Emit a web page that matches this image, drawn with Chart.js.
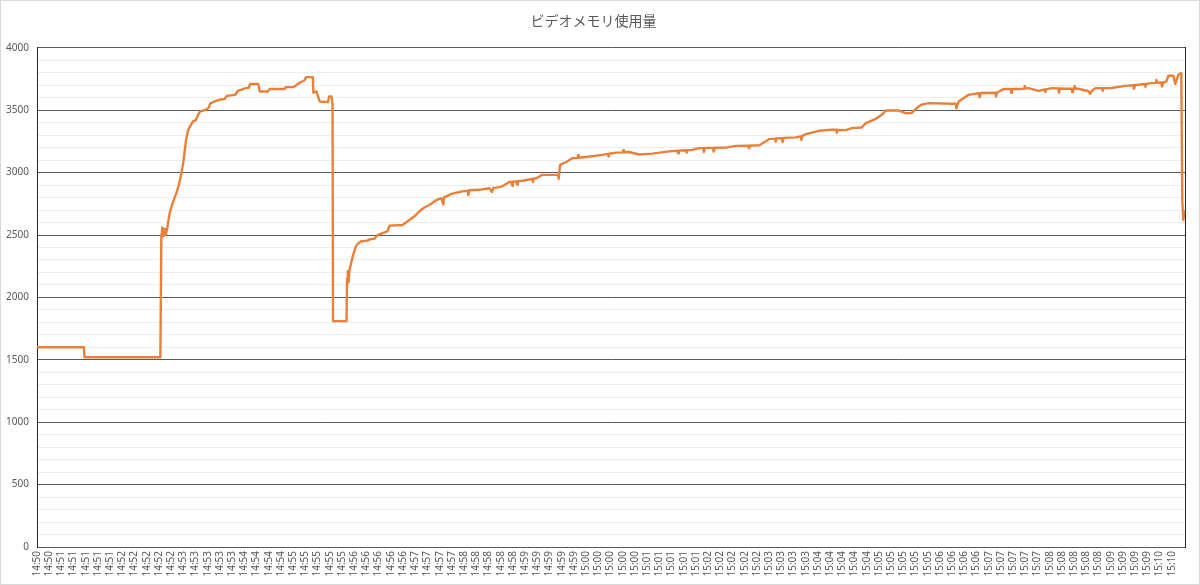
<!DOCTYPE html>
<html>
<head>
<meta charset="utf-8">
<script src="https://cdn.jsdelivr.net/npm/chart.js@4.4.1/dist/chart.umd.min.js"></script>
<style>
  html, body { margin: 0; padding: 0; background: #ffffff; }
  #wrap { position: relative; width: 1200px; height: 585px; }
  #frame { position: absolute; left: 0; top: 0; width: 1198px; height: 583px; border: 1px solid #d9d9d9; pointer-events: none; }
  canvas { position: absolute; left: 0; top: 0; }
</style>
</head>
<body>
<div id="wrap">
  <canvas id="c" width="1200" height="585"></canvas>
  <div id="frame"></div>
</div>
<script>
const chartTitle = 'ビデオメモリ使用量';

// Category tick labels (one per labelled category position)
const timeLabels = [
  '14:50','14:50',
  '14:51','14:51','14:51','14:51','14:51',
  '14:52','14:52','14:52','14:52','14:52',
  '14:53','14:53','14:53','14:53','14:53',
  '14:54','14:54','14:54','14:54',
  '14:55','14:55','14:55','14:55','14:55',
  '14:56','14:56','14:56','14:56','14:56',
  '14:57','14:57','14:57','14:57',
  '14:58','14:58','14:58','14:58','14:58',
  '14:59','14:59','14:59','14:59','14:59',
  '15:00','15:00','15:00','15:00','15:00',
  '15:01','15:01','15:01','15:01','15:01',
  '15:02','15:02','15:02','15:02','15:02',
  '15:03','15:03','15:03','15:03',
  '15:04','15:04','15:04','15:04','15:04',
  '15:05','15:05','15:05','15:05','15:05',
  '15:06','15:06','15:06','15:06',
  '15:07','15:07','15:07','15:07','15:07',
  '15:08','15:08','15:08','15:08','15:08',
  '15:09','15:09','15:09','15:09',
  '15:10','15:10'
];

// Sample positions (in label-index units) and video memory usage (MB)
const sampleIdx = [
  0, 3.85, 3.89, 10.11, 10.19, 10.27, 10.35, 10.47, 10.56, 10.68,
  10.88, 11.13, 11.43, 11.62, 11.84, 11.99, 12.11, 12.23, 12.38, 12.60,
  12.79, 13.01, 13.18, 13.38, 13.75, 14.08, 14.20, 14.57, 14.98, 15.38,
  15.55, 15.96, 16.28, 16.45, 16.78, 17.02, 17.35, 17.47, 18.13, 18.25,
  18.90, 19.07, 20.29, 20.38, 21.03, 21.52, 21.93, 22.05, 22.61, 22.65,
  22.91, 23.16, 23.85, 23.94, 24.14, 24.22, 24.26, 25.37, 25.41, 25.47,
  25.53, 25.61, 25.88, 26.10, 26.29, 26.57, 27.09, 27.25, 27.66, 27.91,
  28.31, 28.72, 28.89, 29.95, 30.52, 30.93, 31.34, 31.75, 32.16, 32.73,
  33.14, 33.30, 33.38, 33.55, 33.96, 34.37, 34.86, 35.30, 35.35, 35.43,
  36.25, 37.07, 37.30, 37.40, 37.64, 38.13, 38.71,
  38.90, 38.94, 39.00, 39.30, 39.34, 39.40,
  39.77, 40.34,
  40.60, 40.64, 40.70,
  40.92, 41.41, 42.70, 42.76, 42.86, 43.04, 43.37, 43.86,
  44.30, 44.34, 44.40,
  45.01, 46.32,
  46.80, 46.84, 46.90,
  47.46,
  48.00, 48.04, 48.10,
  48.53, 49.35, 50.41, 51.80,
  52.50, 52.54, 52.60, 53.20, 53.24, 53.30,
  53.68, 54.26, 54.60, 54.65, 54.75, 55.40,
  55.45, 55.55, 56.46, 57.28, 58.30, 58.35, 58.45, 59.17, 59.98,
  60.50, 60.54, 60.60,
  61.05, 61.10, 61.20, 62.19,
  62.60, 62.64, 62.70,
  63.01, 64.08, 65.14, 65.50, 65.55, 65.65, 66.28,
  66.78, 67.59, 67.92, 68.74, 69.23, 69.56, 70.62, 71.19, 71.69, 72.26,
  72.50, 73.08, 74.96, 75.30, 75.35, 75.53, 76.35, 77.17, 77.25, 77.35,
  78.56, 78.60, 78.70, 79.21,
  79.80, 79.84, 79.90,
  80.44,
  80.90, 80.94, 81.00,
  81.26, 82.08,
  82.60, 82.64, 82.70,
  83.14, 83.70, 83.75, 83.85, 84.29,
  84.80, 84.84, 84.90, 85.00, 85.04, 85.10,
  85.35, 86.17, 86.30, 86.40, 86.74,
  87.30, 87.34, 87.40,
  88.05, 89.20, 89.85, 89.90, 90.00, 90.26,
  90.80, 90.84, 90.90,
  91.33,
  91.70, 91.74, 91.80,
  92.14, 92.20, 92.30, 92.55, 92.72, 93.13,
  93.29, 93.54, 93.78, 93.86, 93.94, 94.07
];
const memoryMB = [
  1600, 1600, 1520, 1520, 2480, 2560, 2490, 2550, 2500, 2560,
  2680, 2760, 2840, 2900, 3000, 3080, 3180, 3270, 3340, 3380,
  3410, 3420, 3460, 3490, 3500, 3520, 3555, 3570, 3585, 3590,
  3615, 3620, 3625, 3655, 3665, 3675, 3680, 3710, 3710, 3650,
  3650, 3670, 3670, 3685, 3685, 3720, 3740, 3765, 3765, 3640,
  3650, 3570, 3565, 3610, 3610, 3550, 1810, 1810, 2150, 2210,
  2120, 2220, 2330, 2400, 2430, 2450, 2455, 2465, 2470, 2500,
  2515, 2530, 2575, 2580, 2620, 2650, 2690, 2720, 2740, 2780,
  2795, 2745, 2805, 2810, 2830, 2840, 2850, 2855, 2820, 2858,
  2862, 2875, 2845, 2878, 2880, 2890, 2925,
  2927, 2895, 2928, 2930, 2905, 2931,
  2935, 2945,
  2950, 2925, 2951,
  2955, 2982, 2982, 2950, 3060, 3070, 3085, 3115,
  3118, 3140, 3119,
  3125, 3142,
  3150, 3128, 3151,
  3160,
  3162, 3180, 3163,
  3165, 3145, 3152, 3170,
  3175, 3155, 3176, 3179, 3160, 3180,
  3182, 3196, 3196, 3165, 3198, 3198,
  3168, 3199, 3200, 3214, 3216, 3195, 3217, 3218, 3268,
  3272, 3248, 3273,
  3276, 3245, 3278, 3282,
  3290, 3262, 3292,
  3308, 3335, 3343, 3343, 3320, 3342, 3340,
  3356, 3361, 3396, 3431, 3463, 3497, 3497, 3476, 3478, 3530,
  3545, 3557, 3552, 3552, 3515, 3570, 3623, 3637, 3605, 3638,
  3640, 3610, 3642, 3669,
  3670, 3640, 3670,
  3670,
  3673, 3695, 3674,
  3677, 3655,
  3666, 3645, 3667,
  3677, 3675, 3640, 3674, 3672,
  3672, 3645, 3672, 3672, 3695, 3672,
  3672, 3652, 3630, 3650, 3677,
  3677, 3655, 3677,
  3678, 3695, 3700, 3672, 3702, 3704,
  3710, 3688, 3711,
  3717,
  3719, 3742, 3720,
  3722, 3690, 3722, 3730, 3776, 3776,
  3711, 3784, 3797, 2780, 2620, 2690
];

const xMax = 94.1;
const yMin = 0, yMax = 4000, yMinorStep = 100, yMajorStep = 500;

const points = sampleIdx.map((x, i) => ({ x: x, y: memoryMB[i] }));

const labelColor = '#595959';

new Chart(document.getElementById('c'), {
  type: 'line',
  data: {
    datasets: [{
      data: points,
      borderColor: '#E9803A',
      borderWidth: 2.4,
      pointRadius: 0,
      fill: false,
      tension: 0,
      borderJoinStyle: 'round',
      borderCapStyle: 'round'
    }]
  },
  options: {
    responsive: false,
    animation: false,
    devicePixelRatio: 1,
    layout: { padding: { left: 0, right: 13, top: 0, bottom: 0 } },
    plugins: {
      legend: { display: false },
      tooltip: { enabled: false },
      title: {
        display: true,
        text: chartTitle,
        color: labelColor,
        font: { family: "'Noto Sans CJK JP', 'Noto Sans', sans-serif", size: 14, weight: 'normal' },
        padding: { top: 12, bottom: 19 }
      }
    },
    scales: {
      x: {
        type: 'linear',
        min: 0,
        max: xMax,
        grid: { display: false, drawTicks: false },
        border: { display: true, color: '#595959', width: 1 },
        ticks: {
          stepSize: 1,
          autoSkip: false,
          includeBounds: false,
          minRotation: 90,
          maxRotation: 90,
          padding: 4,
          color: labelColor,
          font: { family: "'Noto Sans', sans-serif", size: 10 },
          callback: (v) => Number.isInteger(v) && v < timeLabels.length ? timeLabels[v] : ''
        },
        afterFit: (s) => { s.height = 38; }
      },
      y: {
        position: 'left',
        min: yMin,
        max: yMax,
        grid: {
          drawTicks: false,
          color: (ctx) => (ctx.tick && ctx.tick.value % yMajorStep === 0) ? '#5a5a5a' : '#ececec',
          lineWidth: 1
        },
        border: { display: true, color: '#262626', width: 1 },
        ticks: {
          stepSize: yMinorStep,
          autoSkip: false,
          padding: 8,
          color: labelColor,
          font: { family: "'Noto Sans', sans-serif", size: 10 },
          callback: (v) => v % yMajorStep === 0 ? String(v) : ''
        },
        afterFit: (s) => { s.width = 37; }
      },
      y2: {
        position: 'right',
        display: true,
        grid: { drawOnChartArea: false, drawTicks: false },
        border: { display: true, color: '#262626', width: 1 },
        ticks: { display: false },
        afterFit: (s) => { s.width = 0; }
      }
    }
  }
});
</script>
</body>
</html>
